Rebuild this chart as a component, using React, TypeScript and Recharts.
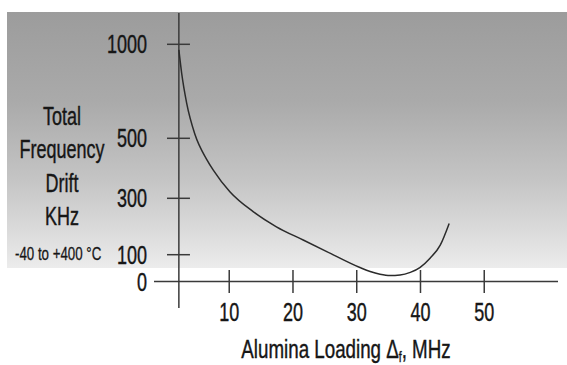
import { LineChart, Line, XAxis, YAxis, ReferenceLine } from "recharts";

// curve: loading (MHz) vs drift (kHz)
const loadingMhz = [2.1, 2.54, 3.33, 4.63, 6.46, 7.5, 10.1, 13.8, 17.4, 21.6, 25.3, 30.5, 32.1, 33.65, 35.2, 36.8, 38.4, 39.9, 41.5, 43.1, 44.5];
const driftKhz = [970, 846, 686, 520, 430, 394, 322, 252, 199, 152, 111, 52, 37, 27, 22, 24, 34, 52, 87, 134, 211];

const xTicks = [10, 20, 30, 40, 50];
const yTicks = [0, 100, 300, 500, 1000];
// the printed y scale is not linear: height of each tick above zero
const yTickHeights = [0, 26.8, 83.2, 143.2, 237.2];

const yAxisAt = 2.1;

function toAxis(v: number) {
    for (let i = 1; i < yTicks.length; i++) {
        if (v <= yTicks[i] || i === yTicks.length - 1) {
            const t = (v - yTicks[i - 1]) / (yTicks[i] - yTicks[i - 1]);
            return yTickHeights[i - 1] + t * (yTickHeights[i] - yTickHeights[i - 1]);
        }
    }
    return 0;
}

const data = loadingMhz.map((x, i) => ({ x, y: toAxis(driftKhz[i]) }));

const font = "'Liberation Sans', Arial, sans-serif";
const ink = "#161616";
const axisColor = "#3a3a3a";
const squeeze = 0.72;

// condensed look: plain sans squeezed horizontally
function XTick({ x, y, payload }: any) {
    return (
        <text
            transform={`translate(${x},${y}) scale(${squeeze},1)`}
            textAnchor="middle"
            dy={18}
            fill={ink}
            stroke={ink}
            strokeWidth={0.4}
            fontSize={25}
            fontFamily={font}
        >
            {payload.value}
        </text>
    );
}

function YTick({ x, y, payload }: any) {
    const label = yTicks[yTickHeights.indexOf(payload.value)];
    return (
        <text
            transform={`translate(${x},${y}) scale(${squeeze},1)`}
            textAnchor="end"
            dy={9}
            fill={ink}
            stroke={ink}
            strokeWidth={0.4}
            fontSize={25}
            fontFamily={font}
        >
            {label}
        </text>
    );
}

export default function App() {
    return (
        <div style={{ position: "absolute", left: 0, top: 0, width: 567, height: 365, background: "#fff", fontFamily: font, overflow: "hidden" }}>
            {/* grey backdrop */}
            <div
                style={{
                    position: "absolute",
                    left: 7,
                    top: 12,
                    width: 560,
                    height: 256,
                    background: "linear-gradient(to bottom, #9c9c9c 0%, #aaaaaa 35%, #c4c4c4 65%, #e0e0e0 90%, #ececec 100%)",
                }}
            />

            <div style={{ position: "absolute", left: 0, top: 0 }}>
                <LineChart width={567} height={365} data={data} margin={{ top: 13, right: 9, bottom: 0, left: 94 }}>
                    <XAxis
                        dataKey="x"
                        type="number"
                        domain={[-1.8, 61.57]}
                        ticks={xTicks}
                        interval={0}
                        axisLine={false}
                        tickLine={false}
                        tickSize={0}
                        tickMargin={-5}
                        height={57}
                        tick={<XTick />}
                    />
                    <YAxis
                        type="number"
                        domain={[-26.5, 268.5]}
                        ticks={yTickHeights}
                        interval={0}
                        axisLine={false}
                        tickLine={false}
                        tickSize={0}
                        tickMargin={7}
                        width={60}
                        tick={<YTick />}
                    />
                    {/* axes cross inside the plot */}
                    <ReferenceLine y={0} stroke={axisColor} strokeWidth={1.5} />
                    <ReferenceLine x={yAxisAt} stroke={axisColor} strokeWidth={1.5} />
                    {xTicks.map((t) => (
                        <ReferenceLine
                            key={"xt" + t}
                            segment={[{ x: t, y: -11.5 }, { x: t, y: 11.5 }]}
                            stroke={axisColor}
                            strokeWidth={1.5}
                        />
                    ))}
                    {yTickHeights.slice(1).map((h) => (
                        <ReferenceLine
                            key={"yt" + h}
                            segment={[{ x: 0.24, y: h }, { x: 3.84, y: h }]}
                            stroke={axisColor}
                            strokeWidth={1.5}
                        />
                    ))}
                    <Line
                        dataKey="y"
                        type="monotone"
                        stroke="#2b2b2b"
                        strokeWidth={1.5}
                        dot={false}
                        isAnimationActive={false}
                    />
                </LineChart>
            </div>

            {/* y title */}
            <div
                style={{
                    position: "absolute",
                    left: 0,
                    top: 100,
                    width: 124,
                    textAlign: "center",
                    color: ink,
                    fontSize: 25,
                    lineHeight: "33.3px",
                    transform: `scaleX(${squeeze})`,
                    WebkitTextStroke: "0.4px " + ink,
                }}
            >
                <div>Total</div>
                <div>Frequency</div>
                <div>Drift</div>
                <div>KHz</div>
            </div>
            <div
                style={{
                    position: "absolute",
                    left: 15,
                    top: 243,
                    color: ink,
                    fontSize: 19,
                    whiteSpace: "nowrap",
                    transform: "scaleX(0.7)",
                    transformOrigin: "left center",
                    WebkitTextStroke: "0.3px " + ink,
                }}
            >
                -40 to +400 °C
            </div>

            {/* x title */}
            <div
                style={{
                    position: "absolute",
                    left: 146,
                    top: 336,
                    width: 400,
                    textAlign: "center",
                    color: ink,
                    fontSize: 25,
                    lineHeight: "26px",
                    whiteSpace: "nowrap",
                    transform: "scaleX(0.75)",
                    WebkitTextStroke: "0.4px " + ink,
                }}
            >
                Alumina Loading Δ<span style={{ fontSize: 14, position: "relative", top: 4 }}>f</span>, MHz
            </div>
        </div>
    );
}
